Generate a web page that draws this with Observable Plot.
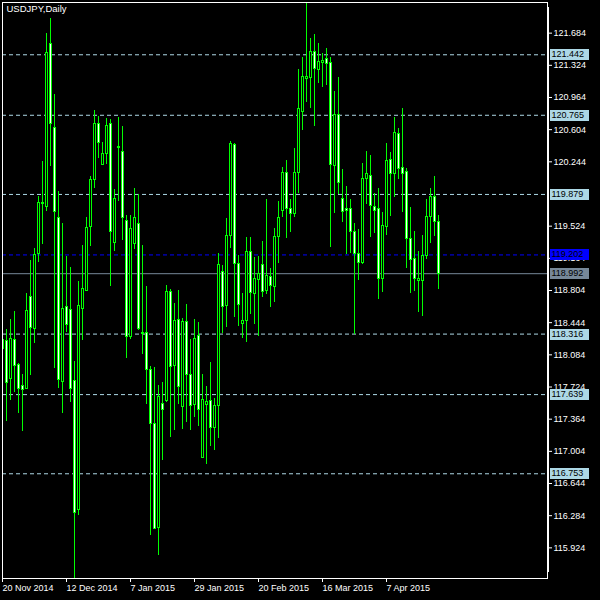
<!DOCTYPE html>
<html><head><meta charset="utf-8">
<script src="https://cdn.jsdelivr.net/npm/d3@7"></script>
<script src="https://cdn.jsdelivr.net/npm/@observablehq/plot@0.6"></script>
<style>html,body{margin:0;padding:0;background:#000;}</style>
</head><body><div id="chart"></div>
<script>
const title = "USDJPY,Daily";
const dates = [
"2014-11-20","2014-11-21","2014-11-24","2014-11-25","2014-11-26","2014-11-27","2014-11-28",
"2014-12-01","2014-12-02","2014-12-03","2014-12-04","2014-12-05",
"2014-12-08","2014-12-09","2014-12-10","2014-12-11","2014-12-12",
"2014-12-15","2014-12-16","2014-12-17","2014-12-18","2014-12-19",
"2014-12-22","2014-12-23","2014-12-24","2014-12-26",
"2014-12-29","2014-12-30","2014-12-31",
"2015-01-02","2015-01-05","2015-01-06","2015-01-07","2015-01-08","2015-01-09",
"2015-01-12","2015-01-13","2015-01-14","2015-01-15","2015-01-16",
"2015-01-19","2015-01-20","2015-01-21","2015-01-22","2015-01-23",
"2015-01-26","2015-01-27","2015-01-28","2015-01-29","2015-01-30",
"2015-02-02","2015-02-03","2015-02-04","2015-02-05","2015-02-06",
"2015-02-09","2015-02-10","2015-02-11","2015-02-12","2015-02-13",
"2015-02-16","2015-02-17","2015-02-18","2015-02-19","2015-02-20",
"2015-02-23","2015-02-24","2015-02-25","2015-02-26","2015-02-27",
"2015-03-02","2015-03-03","2015-03-04","2015-03-05","2015-03-06",
"2015-03-09","2015-03-10","2015-03-11","2015-03-12","2015-03-13",
"2015-03-16","2015-03-17","2015-03-18","2015-03-19","2015-03-20",
"2015-03-23","2015-03-24","2015-03-25","2015-03-26","2015-03-27",
"2015-03-30","2015-03-31","2015-04-01","2015-04-02","2015-04-03",
"2015-04-06","2015-04-07","2015-04-08","2015-04-09","2015-04-10",
"2015-04-13","2015-04-14","2015-04-15","2015-04-16","2015-04-17",
"2015-04-20","2015-04-21","2015-04-22","2015-04-23","2015-04-24"];
const opens = [118.150,118.242,117.819,118.250,117.965,117.734,117.705,118.730,118.368,119.210,
119.768,119.739,121.562,120.626,119.617,117.779,118.621,118.588,117.787,116.347,
118.592,118.804,119.516,120.040,120.667,120.207,120.329,120.663,119.332,120.398,
120.354,119.585,118.283,119.324,119.548,118.332,118.328,117.917,117.311,116.147,
117.534,117.563,118.791,117.957,118.470,117.502,118.450,117.860,117.522,118.295,
116.932,117.522,117.563,117.266,117.510,119.011,118.628,119.409,120.431,119.104,
118.433,118.465,119.238,118.770,118.925,119.088,118.803,118.954,118.840,119.401,
119.694,120.121,119.714,119.657,120.117,120.805,121.175,121.179,121.472,121.277,
121.354,121.395,121.346,120.195,120.772,119.828,119.719,119.714,119.462,119.210,
119.116,120.052,120.085,119.739,119.714,118.929,119.515,120.268,120.113,120.557,
120.174,120.134,119.381,119.157,118.913,118.913,119.186,119.625,119.849,119.572];
const highs = [118.270,118.364,118.478,118.568,117.982,117.868,118.771,119.137,119.271,119.853,
120.248,121.680,121.846,120.992,119.910,119.552,119.190,119.060,118.010,118.905,
119.312,119.617,120.077,120.817,120.756,120.459,120.728,120.716,119.935,120.744,
120.634,119.638,119.638,119.943,119.873,119.312,118.852,117.949,117.937,117.746,
117.774,118.856,118.816,118.653,118.804,118.486,118.649,118.254,118.478,118.450,
117.868,117.734,117.998,117.591,119.219,119.084,119.605,120.467,120.451,119.198,
118.770,119.401,119.401,119.169,119.185,119.352,119.820,119.055,119.495,119.796,
120.186,120.256,119.820,120.390,121.273,121.407,122.017,121.619,121.664,121.566,
121.452,121.509,121.407,121.029,121.192,120.154,119.971,119.820,119.556,119.483,
120.223,120.357,120.317,119.889,119.942,119.674,120.447,120.349,120.736,120.614,
120.837,120.166,119.735,119.462,119.246,119.421,119.820,119.950,120.085,119.645];
const lows = [118.140,117.339,117.575,117.665,117.429,117.225,117.697,117.856,118.210,119.121,
119.320,119.690,120.195,117.929,117.705,117.429,118.336,117.555,115.578,116.281,
118.246,118.796,119.300,119.943,120.276,120.207,120.215,118.852,119.243,119.800,
119.365,118.043,118.260,119.263,118.360,118.092,117.530,116.066,116.127,115.842,
116.904,117.555,117.156,117.237,117.530,117.250,117.327,117.237,117.380,117.286,
116.930,116.859,117.063,117.014,117.144,118.323,118.392,119.279,118.506,118.404,
118.270,118.221,118.538,118.425,118.294,118.730,118.758,118.616,118.669,119.108,
119.617,119.381,119.454,119.625,119.885,120.593,120.907,120.842,120.638,121.122,
121.078,121.098,119.287,119.666,119.881,119.564,119.206,119.218,118.311,118.921,
119.096,119.767,119.401,119.442,118.701,118.783,119.421,119.633,119.849,120.044,
119.678,119.055,118.770,118.791,118.559,118.514,119.149,119.332,119.409,118.819];
const closes = [118.250,117.766,118.263,117.957,117.705,117.685,118.580,118.385,119.202,119.788,
119.780,121.460,120.663,119.678,117.799,118.600,118.413,117.705,116.310,118.633,
118.824,119.507,120.044,120.667,120.451,120.337,120.646,119.463,119.829,120.415,
119.617,118.283,119.495,119.617,118.368,118.320,117.917,117.307,116.139,117.612,
117.469,118.791,117.949,118.466,117.726,118.446,117.856,117.514,118.263,117.469,
117.575,117.555,117.266,117.510,119.088,118.616,119.409,120.447,119.104,118.640,
118.465,119.238,118.779,118.933,118.986,118.791,118.962,118.852,119.401,119.613,
120.121,119.714,119.657,120.117,120.837,121.192,121.192,121.472,121.281,121.358,
121.371,121.338,120.207,120.772,120.003,119.678,119.690,119.454,119.210,119.116,
120.052,120.105,119.747,119.698,118.929,119.523,120.256,120.113,120.569,120.166,
120.113,119.381,119.149,118.929,118.937,119.190,119.625,119.849,119.572,118.994];
// 119.884 is hidden behind the 119.879 level label in the reference, so it is not drawn
const yTicks = [115.924,116.284,116.644,117.004,117.364,117.724,118.084,118.444,118.804,
119.164,119.524,120.244,120.604,120.964,121.324,121.684];
const xTickIndex = [0,16,32,48,64,80,96];
const xTickLabels = ["20 Nov 2014","12 Dec 2014","7 Jan 2015","29 Jan 2015","20 Feb 2015","16 Mar 2015","7 Apr 2015"];
const pivotLevels = [121.442,120.765,119.879,118.316,117.639,116.753];
const blueLevel = 119.202;
const bidLevel = 118.992;

const bars = dates.map((d, i) => ({i, date: d, open: opens[i], high: highs[i], low: lows[i], close: closes[i]}));
const labelLevels = [
  ...pivotLevels.map(v => ({v, bg: "#ADD8E6"})),
  {v: blueLevel, bg: "#0000FF"},
  {v: bidLevel, bg: "#778899"}
];

function chrome(index, scales, values, dimensions) {
  const {width, height, marginRight, marginTop, marginBottom} = dimensions;
  const right = width - marginRight;
  const g = d3.create("svg:g");
  g.append("rect").attr("x", right).attr("y", marginTop + 5)
    .attr("width", 2).attr("height", height - marginBottom - marginTop - 11).attr("fill", "white");
  for (const L of labelLevels) {
    const y = Math.round(scales.y(L.v));
    g.append("rect").attr("x", right + 3).attr("y", y - 5).attr("width", 39).attr("height", 11).attr("fill", L.bg);
    g.append("text").attr("x", right + 4.5).attr("y", y).attr("dy", "0.36em")
      .attr("text-anchor", "start")
      .attr("fill", "black").attr("font-size", 9).attr("font-family", "Liberation Sans")
      .text(L.v.toFixed(3));
  }
  return g.node();
}

const chart = Plot.plot({
  width: 600, height: 600,
  marginLeft: 2, marginRight: 53, marginTop: 2, marginBottom: 22,
  style: {background: "black", color: "white", fontFamily: "Liberation Sans", fontSize: "9px"},
  x: {domain: [0, 136.25]},
  y: {domain: [115.581, 122.027]},
  color: {type: "identity"},
  marks: [
    Plot.ruleY(pivotLevels, {stroke: "#ADD8E6", strokeDasharray: "4,3"}),
    Plot.ruleY([blueLevel], {stroke: "#0000FF", strokeDasharray: "4,3"}),
    Plot.ruleY([bidLevel], {stroke: "#778899"}),
    Plot.ruleX(bars, {x: "i", y1: "low", y2: "high", stroke: "#00ff00", clip: true, shapeRendering: "crispEdges"}),
    Plot.rect(bars, {x1: d => d.i - 0.25, x2: d => d.i + 0.25, y1: "open", y2: "close",
      fill: d => d.close < d.open ? "white" : "black", stroke: "#00ff00", clip: true, shapeRendering: "crispEdges"}),
    Plot.axisY({anchor: "right", ticks: yTicks, tickFormat: d => d.toFixed(3), tickSize: 4, tickPadding: 2, label: null, fontSize: 9}),
    Plot.axisX({ticks: xTickIndex, tickFormat: d => xTickLabels[xTickIndex.indexOf(d)], tickSize: 4, tickPadding: 2, textAnchor: "start", label: null, fontSize: 9}),
    Plot.frame({stroke: "white"}),
    Plot.text([title], {frameAnchor: "top-left", dx: 4, dy: 3, lineAnchor: "top", fill: "white", fontSize: 9.5}),
    chrome
  ]
});
document.getElementById("chart").appendChild(chart);
</script>
</body></html>
